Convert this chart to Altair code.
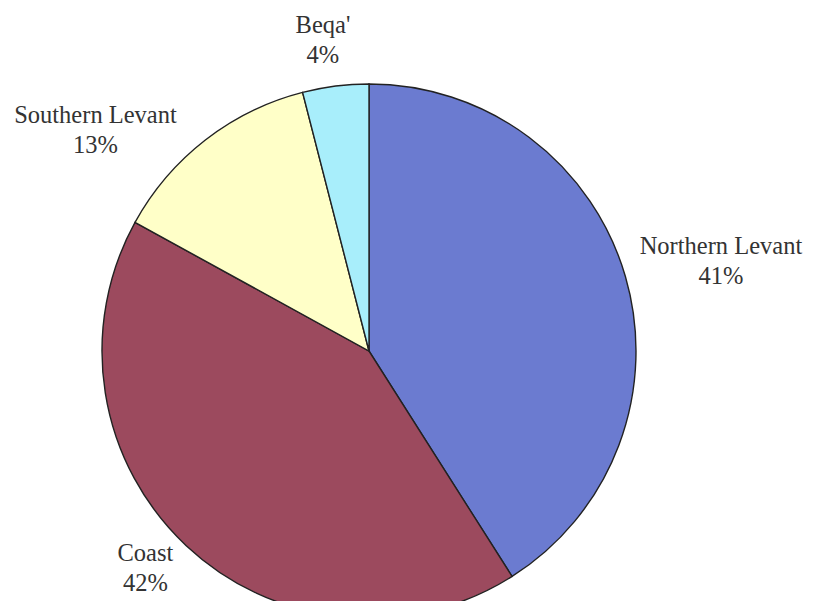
import altair as alt
import pandas as pd

categories = ["Northern Levant", "Coast", "Southern Levant", "Beqa'"]
values = [41, 42, 13, 4]
pct_labels = ["41%", "42%", "13%", "4%"]
colors = ["#6B7BD0", "#9C4A5E", "#FFFFC8", "#A8EEFB"]

# label layout (not data): radius in px and angle nudge in percent units
label_radius = [363, 312, 351, 313]
label_nudge = [0.56, 0.72, -3.72, -0.35]

df = pd.DataFrame({"category": categories, "value": values, "pct": pct_labels})
df["order"] = range(len(df))
cum = df["value"].cumsum()
df["mid"] = cum - df["value"] / 2 + pd.Series(label_nudge)
df["label"] = df["category"] + "\n" + df["pct"]
df["lr"] = label_radius

W, H = 798, 593
cx, cy = 369 - 8, 351 - 8

theta_scale = alt.Scale(domain=[0, sum(values)])

pie = alt.Chart(df).mark_arc(outerRadius=267, stroke="#222222", strokeWidth=1.4).encode(
    theta=alt.Theta("value:Q", stack=True, scale=theta_scale),
    color=alt.Color("category:N", scale=alt.Scale(domain=categories, range=colors), legend=None),
    order=alt.Order("order:Q"),
    x=alt.value(cx),
    y=alt.value(cy),
)

labels = alt.Chart(df).mark_text(
    font="Liberation Serif", fontSize=24.5, color="#333333", lineBreak="\n",
    lineHeight=30, align="center", baseline="middle", dy=-15,
).encode(
    theta=alt.Theta("mid:Q", stack=None, scale=theta_scale),
    radius=alt.Radius("lr:Q", scale=None),
    text="label:N",
    x=alt.value(cx),
    y=alt.value(cy),
)

chart = alt.layer(pie, labels).properties(
    width=W, height=H, autosize=alt.AutoSizeParams(type="none"), padding=0,
    background="#FFFFFF",
).configure_view(stroke=None)

chart.save("out.html", embed_options={"renderer": "svg", "actions": False})
